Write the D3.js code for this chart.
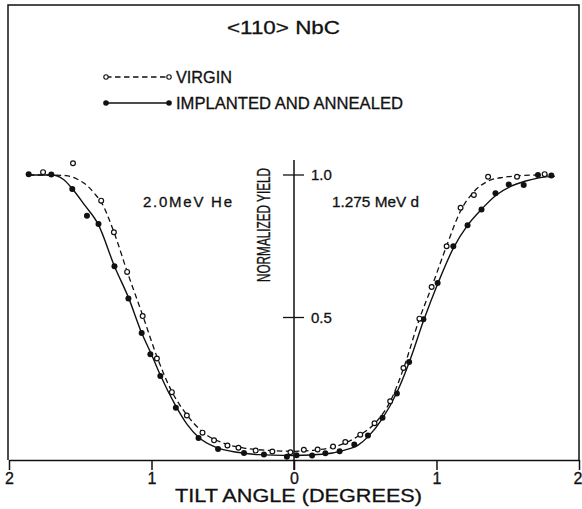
<!DOCTYPE html>
<html>
<head>
<meta charset="utf-8">
<script src="https://cdn.jsdelivr.net/npm/d3@7/dist/d3.min.js"></script>
<style>
  html, body { margin: 0; padding: 0; background: #fff; }
  svg text { font-family: "Liberation Sans", Arial, sans-serif; fill: #111; stroke: #111; stroke-width: 0.3px; }
</style>
</head>
<body>
<svg id="chart" width="582" height="509"></svg>
<script>
// Tilt angle in degrees (negative = left half, 2.0 MeV He; positive = right half, 1.275 MeV d)
const xTickValues = [-2, -1, 0, 1, 2];
const xTickLabels = ["2", "1", "0", "1", "2"];
const yTickValues = [0.5, 1.0];
const yTickLabels = ["0.5", "1.0"];

// Measured points [angle, normalized yield]
const heVirgin = [[-1.761,1.010],[-1.551,1.041],[-1.353,0.910],[-1.264,0.799],[-1.171,0.660],[-1.062,0.505],[-0.962,0.356],[-0.857,0.238],[-0.752,0.156],[-0.642,0.096],[-0.561,0.069],[-0.467,0.051],[-0.390,0.043],[-0.269,0.033],[-0.152,0.030],[-0.025,0.027]];
const heAnnealed = [[-1.862,1.003],[-1.703,1.002],[-1.556,0.951],[-1.453,0.857],[-1.372,0.828],[-1.260,0.680],[-1.162,0.567],[-1.069,0.446],[-1.008,0.371],[-0.938,0.295],[-0.829,0.183],[-0.670,0.077],[-0.533,0.039],[-0.351,0.025],[-0.211,0.019],[-0.050,0.011]];
const dVirgin = [[0.069,0.036],[0.166,0.037],[0.274,0.047],[0.360,0.063],[0.465,0.089],[0.565,0.129],[0.675,0.206],[0.768,0.323],[0.880,0.496],[0.966,0.607],[1.071,0.750],[1.169,0.885],[1.262,0.930],[1.362,0.994],[1.565,0.994],[1.759,1.003]];
const dAnnealed = [[0.018,0.017],[0.127,0.016],[0.220,0.024],[0.320,0.031],[0.423,0.054],[0.519,0.086],[0.621,0.148],[0.722,0.233],[0.808,0.344],[0.908,0.494],[1.008,0.621],[1.118,0.750],[1.218,0.824],[1.316,0.879],[1.414,0.936],[1.507,0.967],[1.612,0.965],[1.712,1.000],[1.806,0.998]];

// Hand-fitted smooth curves through the points
const heVirginFit = [[-1.862,1.0],[-1.76,1.0],[-1.60,0.998],[-1.52,0.985],[-1.45,0.962],[-1.40,0.935],[-1.353,0.905],[-1.264,0.80],[-1.17,0.66],[-1.06,0.505],[-0.96,0.36],[-0.857,0.24],[-0.75,0.157],[-0.64,0.098],[-0.50,0.06],[-0.35,0.042],[-0.15,0.033],[0,0.03]];
const heAnnealedFit = [[-1.862,1.0],[-1.70,1.0],[-1.62,0.985],[-1.556,0.952],[-1.47,0.895],[-1.372,0.825],[-1.26,0.68],[-1.16,0.568],[-1.07,0.447],[-1.0,0.37],[-0.94,0.30],[-0.83,0.19],[-0.75,0.125],[-0.67,0.08],[-0.55,0.045],[-0.40,0.027],[-0.25,0.019],[0,0.016]];
const dVirginFit = [[0,0.03],[0.15,0.035],[0.28,0.046],[0.36,0.06],[0.47,0.09],[0.57,0.13],[0.675,0.205],[0.77,0.323],[0.88,0.495],[0.97,0.612],[1.07,0.75],[1.17,0.875],[1.26,0.94],[1.36,0.978],[1.47,0.992],[1.57,0.997],[1.70,1.0],[1.78,1.0]];
const dAnnealedFit = [[0,0.016],[0.2,0.02],[0.35,0.034],[0.45,0.052],[0.52,0.082],[0.62,0.145],[0.72,0.235],[0.81,0.345],[0.91,0.49],[1.01,0.62],[1.12,0.745],[1.22,0.825],[1.32,0.882],[1.42,0.93],[1.52,0.96],[1.62,0.978],[1.72,0.99],[1.83,0.995]];

const svg = d3.select("#chart");
const ink = "#111";

const x = d3.scaleLinear().domain([-2, 2]).range([9, 579]);
const y = d3.scaleLinear().domain([0, 1]).range([460, 175]);

// Outer frame (left, top, right)
svg.append("path")
  .attr("d", `M8,${y(0)} V5 H579 V${y(0)}`)
  .attr("fill", "none").attr("stroke", ink).attr("stroke-width", 1.5);

// Bottom tilt-angle axis
const xAxis = d3.axisBottom(x)
  .tickValues(xTickValues)
  .tickSize(10).tickSizeOuter(0)
  .tickFormat((d, i) => xTickLabels[i]);
const gx = svg.append("g").attr("transform", `translate(0,${y(0)})`).call(xAxis);
gx.select(".domain").attr("stroke", ink).attr("stroke-width", 1.5);
gx.selectAll(".tick line").attr("stroke", ink).attr("stroke-width", 1.5);
gx.selectAll(".tick text")
  .attr("y", 13).attr("dy", "0.71em")
  .style("font-size", "16px").style("font-family", "Liberation Sans, Arial, sans-serif").attr("fill", ink);
// keep the outermost right label inside the page
gx.selectAll(".tick text").filter(d => d === 2).attr("text-anchor", "end").attr("x", 3);

// Vertical yield axis through zero tilt
svg.append("line")
  .attr("x1", x(0)).attr("x2", x(0)).attr("y1", 160).attr("y2", y(0) + 10)
  .attr("stroke", ink).attr("stroke-width", 1.5);
svg.selectAll(".ytick").data(yTickValues).enter().append("line")
  .attr("x1", x(0) - 11).attr("x2", x(0) + 10)
  .attr("y1", d => y(d)).attr("y2", d => y(d))
  .attr("stroke", ink).attr("stroke-width", 1.3);
svg.selectAll(".ylab").data(yTickValues).enter().append("text")
  .attr("x", x(0) + 17).attr("y", d => y(d) + 5)
  .style("font-size", "15px")
  .text((d, i) => yTickLabels[i]);

// Axis titles
svg.append("text")
  .attr("transform", `translate(270,225) rotate(-90)`)
  .attr("text-anchor", "middle")
  .attr("textLength", 114).attr("lengthAdjust", "spacingAndGlyphs")
  .style("font-size", "17.5px")
  .text("NORMALIZED YIELD");
svg.append("text")
  .attr("x", 175).attr("y", 502)
  .attr("textLength", 247).attr("lengthAdjust", "spacingAndGlyphs")
  .style("font-size", "18px")
  .text("TILT ANGLE (DEGREES)");

// Title and beam labels
svg.append("text")
  .attr("x", 227).attr("y", 34)
  .attr("textLength", 113).attr("lengthAdjust", "spacingAndGlyphs")
  .style("font-size", "19px")
  .text("<110> NbC");
svg.append("text")
  .attr("x", 143).attr("y", 207)
  .attr("textLength", 89).attr("lengthAdjust", "spacing")
  .style("font-size", "15px")
  .text("2.0MeV  He");
svg.append("text")
  .attr("x", 332).attr("y", 207)
  .attr("textLength", 87).attr("lengthAdjust", "spacingAndGlyphs")
  .style("font-size", "15px")
  .text("1.275 MeV d");

// Curves
const line = d3.line().x(d => x(d[0])).y(d => y(d[1])).curve(d3.curveMonotoneX);
const dash = "5.5,3.5";
[
  { data: heVirginFit, dashed: true },
  { data: dVirginFit, dashed: true },
  { data: heAnnealedFit, dashed: false },
  { data: dAnnealedFit, dashed: false }
].forEach(c => {
  svg.append("path").attr("d", line(c.data))
    .attr("fill", "none").attr("stroke", ink)
    .attr("stroke-width", c.dashed ? 1.3 : 1.4)
    .attr("stroke-dasharray", c.dashed ? dash : null);
});

// Markers
function openDots(data) {
  svg.append("g").selectAll("circle").data(data).enter().append("circle")
    .attr("cx", d => x(d[0])).attr("cy", d => y(d[1])).attr("r", 2.4)
    .attr("fill", "#fff").attr("stroke", ink).attr("stroke-width", 1.2);
}
function filledDots(data) {
  svg.append("g").selectAll("circle").data(data).enter().append("circle")
    .attr("cx", d => x(d[0])).attr("cy", d => y(d[1])).attr("r", 3)
    .attr("fill", ink);
}
filledDots(heAnnealed);
filledDots(dAnnealed);
openDots(heVirgin);
openDots(dVirgin);

// Legend
const legend = [
  { label: "VIRGIN", dashed: true, yy: 77, width: 59 },
  { label: "IMPLANTED AND ANNEALED", dashed: false, yy: 103, width: 230 }
];
legend.forEach(l => {
  const g = svg.append("g");
  g.append("line").attr("x1", 106).attr("x2", 169).attr("y1", l.yy).attr("y2", l.yy)
    .attr("stroke", ink).attr("stroke-width", 1.3)
    .attr("stroke-dasharray", l.dashed ? dash : null);
  [106, 169].forEach(cx => {
    g.append("circle").attr("cx", cx).attr("cy", l.yy)
      .attr("r", l.dashed ? 2.2 : 2.8)
      .attr("fill", l.dashed ? "#fff" : ink)
      .attr("stroke", ink).attr("stroke-width", l.dashed ? 1.1 : 0);
  });
  g.append("text").attr("x", 176).attr("y", l.yy + 6)
    .attr("textLength", l.width - 3).attr("lengthAdjust", "spacingAndGlyphs")
    .style("font-size", "16px")
    .text(l.label);
});
</script>
</body>
</html>
